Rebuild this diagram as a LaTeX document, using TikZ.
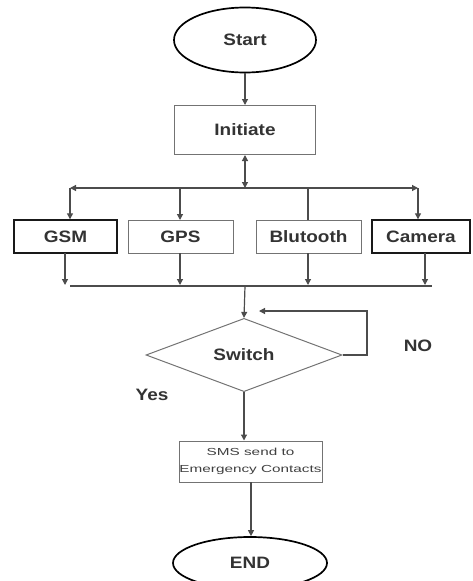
\documentclass[tikz,border=0pt]{standalone}
\usepackage{fontspec}
\setmainfont{Liberation Sans}[FakeStretch=1.15]
\newfontfamily\smsfont{Liberation Sans}[FakeStretch=1.5]
\usepackage{tikz}
\usetikzlibrary{shapes.geometric,arrows.meta}

\begin{document}
\begin{tikzpicture}[
x=1pt, y=-1pt,
>={Triangle[width=6pt,length=6pt]},
termnode/.style={ellipse, draw=black, line width=1.7pt, inner sep=0pt, font=\fontsize{16.5}{18}\selectfont\bfseries, text=black!80},
boxnode/.style={rectangle, draw=black!55, line width=1pt, inner sep=0pt, minimum height=33pt, font=\fontsize{16.5}{18}\selectfont\bfseries, text=black!80},
darkbox/.style={boxnode, draw=black!90, line width=1.4pt},
decisionnode/.style={diamond, draw=black!55, line width=1pt, inner sep=0pt, minimum width=196pt, minimum height=56pt, font=\fontsize{16.5}{18}\selectfont\bfseries, text=black!80},
label/.style={font=\fontsize{16.5}{18}\selectfont\bfseries, text=black!80},
line/.style={draw=black!70, line width=1.2pt},
]
\clip (0,0) rectangle (472,581);
\useasboundingbox (0,0) rectangle (472,581);
%Nodes
\node[termnode, minimum width=142pt, minimum height=65pt] (start) at (245,40)   {Start};
\node[boxnode, minimum width=141pt, minimum height=49pt]  (init)  at (245,130)  {Initiate};
\node[darkbox, minimum width=103pt] (gsm)  at (65.5,236.5)  {GSM};
\node[boxnode, minimum width=105pt] (gps)  at (180.5,236.5) {GPS};
\node[boxnode, minimum width=105pt] (blu)  at (308.5,236.5) {Blutooth};
\node[darkbox, minimum width=98pt]  (cam)  at (421,236.5)   {Camera};
\node[decisionnode] (switch) at (244,355) {Switch};
\node[label] (no)  at (418,346) {NO};
\node[label] (yes) at (152,395) {Yes};
\node[boxnode, minimum width=143pt, minimum height=41pt, align=center, text=black!75,
      font=\smsfont\fontsize{10.2}{16.5}\selectfont] (sms) at (250.5,461.5)
      {SMS send to\\Emergency Contacts};
\node[termnode, minimum width=154pt, minimum height=52pt] (end) at (250,563) {END};

\coordinate (bustop) at (245,188);
\coordinate (busL)   at (70,188);
\coordinate (busR)   at (418,188);
\coordinate (busbot) at (245,286);
\coordinate (botL)   at (70,286);
\coordinate (botR)   at (432,286);
\coordinate (loopA)  at (367,355);
\coordinate (loopB)  at (367,311);
\coordinate (loopC)  at (259,311);

%Lines
\draw[line,->] (start) -- (init);
\draw[line,<->] (init.south) -- (bustop);
\draw[line,<->] (busL) -- (busR);
\draw[line,->] (busL) -- (busL |- gsm.north);
\draw[line,->] (180,188) -- (180,220);
\draw[line] (308,188) -- (308,220);
\draw[line,->] (busR) -- (busR |- cam.north);
\draw[line,->] (65,253) -- (65,285);
\draw[line,->] (180,253) -- (180,285);
\draw[line,->] (308,253) -- (308,285);
\draw[line,->] (425,253) -- (425,285);
\draw[line] (botL) -- (botR);
\draw[line,->] (busbot) -- (switch.north);
\draw[line,->] (switch.east) -- (loopA) -- (loopB) -- (loopC);
\draw[line,->] (switch.south) -- (switch.south |- sms.north);
\draw[line,->] (251,482) -- (end.north -| 251,0);
\end{tikzpicture}
\end{document}
